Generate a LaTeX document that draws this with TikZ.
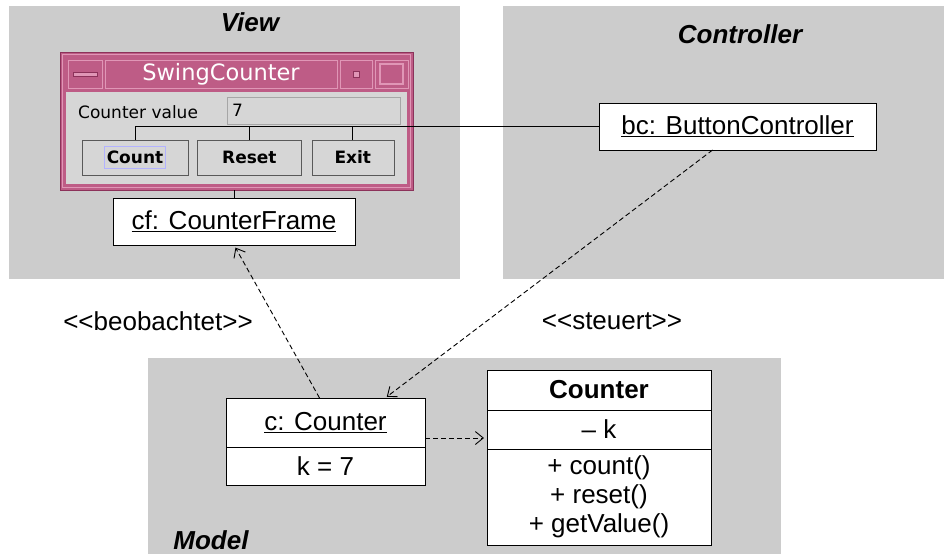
\documentclass[tikz,border=0pt]{standalone}
\usepackage{fontspec}
\setmainfont{Liberation Sans}
\newfontfamily\swingfont{DejaVu Sans}
\usetikzlibrary{positioning,calc,arrows.meta}
\definecolor{panelgray}{RGB}{204,204,204}
\definecolor{swingpink}{RGB}{190,92,134}
\definecolor{swinglight}{RGB}{224,150,182}
\definecolor{swingdark}{RGB}{140,50,90}
\definecolor{swinggray}{RGB}{214,214,214}
\tikzset{
    panel/.style = {
        fill = panelgray,
        },
    part label/.style = {
        font = \fontsize{26}{30}\selectfont\bfseries\itshape,
        },
    uml box/.style = {
        draw,
        fill = white,
        line width = 1pt,
        inner sep = 0pt,
        outer sep = 0pt,
        font = \fontsize{26}{29}\selectfont,
        },
    class name/.style = {
        font = \fontsize{26}{29}\selectfont\bfseries,
        },
    dep/.style = {
        draw,
        line width = 0.9pt,
        dash pattern = on 5pt off 3pt,
        -{Straight Barb[length=8pt,width=13pt]},
        },
    stereo/.style = {
        font = \fontsize{26}{30}\selectfont,
        },
    swing button/.style = {
        draw = gray!70!black,
        fill = swinggray,
        minimum height = 35pt,
        inner sep = 0pt,
        font = \swingfont\fontsize{17}{20}\selectfont\bfseries,
        },
    swing text/.style = {
        font = \swingfont\fontsize{17}{20}\selectfont,
        inner sep = 0pt,
        },
}
\begin{document}
\begin{tikzpicture}[x=1pt, y=-1pt]
    \useasboundingbox (0,0) rectangle (944,554);
    \fill[panel] (9,6) rectangle (460,279);
    \fill[panel] (503,6) rectangle (944,279);
    \fill[panel] (148,358) rectangle (781,554);
    \node[part label] (view) at (250,22) {View};
    \node[part label] (ctrl) at (740,34) {Controller};
    \node[part label] (model) at (211,540) {Model};

    % the swing window
    \node[draw=swingdark, fill=swingpink, minimum width=353pt, minimum height=138pt, inner sep=0pt] (win) at (236.5,121) {};
    \draw[swinglight, line width=1.5pt] (62.5,54.5) rectangle (410.5,187.5);
    \fill[swinggray] (66,92) rectangle (407,184);
    \draw[swinglight] (68,60) rectangle (102,88);
    \draw[swinglight] (105,60) rectangle (337,88);
    \draw[swinglight] (340,60) rectangle (372,88);
    \draw[swinglight] (375,60) rectangle (408,88);
    \filldraw[fill=swinglight, draw=swingdark] (73,72) rectangle (97,76);
    \filldraw[fill=swinglight, draw=swingdark] (353,71) rectangle (359,77);
    \draw[swinglight, line width=1.5pt] (380,64) rectangle (403,84);
    \node[swing text, white, font=\swingfont\fontsize{22.5}{26}\selectfont] (title) at (221,74) {SwingCounter};
    \node[swing text, anchor=west] (lbl) at (78,112) {Counter value};
    \node[draw=gray!70, fill=swinggray, minimum width=173pt, minimum height=27pt] (field) at (313.5,110.5) {};
    \node[swing text, anchor=west] (val) at ([xshift=5pt]field.west) {7};
    \node[swing button, minimum width=106pt] (count) at (135,157.5) {Count};
    \node[swing button, minimum width=104pt, right=9pt of count] (reset) {Reset};
    \node[swing button, minimum width=82pt, right=10pt of reset] (exit) {Exit};
    \draw[blue!30] (104,146) rectangle (165,168);

    \node[uml box, minimum width=242pt, minimum height=47pt] (cf) at (234,221.5) {\underline{cf: CounterFrame}};
    \node[uml box, minimum width=277pt, minimum height=47pt] (bc) at (737.5,126.5) {\underline{bc: ButtonController}};
    \node[uml box, minimum width=199pt, minimum height=49pt] (c) at (325.5,422.5) {\underline{c: Counter}};
    \node[uml box, minimum width=199pt, minimum height=38pt, below=0pt of c] (cval) {k = 7};
    \node[uml box, class name, minimum width=224pt, minimum height=40pt] (cls) at (599,390) {Counter};
    \node[uml box, minimum width=224pt, minimum height=39pt, below=0pt of cls] (clsattr) {\textendash{} k};
    \node[uml box, minimum width=224pt, minimum height=96pt, below=0pt of clsattr, align=center] (clsops) {+ count()\\+ reset()\\+ getValue()};

    \draw[line width=0.8pt] (win.south -| cf.north) -- (cf.north);
    \draw[line width=0.8pt] (bc.west) -- (count.north |- bc.west) -- (count.north);
    \draw[line width=0.8pt] (reset.north |- bc.west) -- (reset.north);
    \draw[line width=0.8pt] (exit.north |- bc.west) -- (exit.north);

    \draw[dep, shorten >=3pt] ($(c.north west)!0.47!(c.north east)$) -- (cf.south);
    \draw[dep, shorten >=2pt] ($(bc.south west)!0.41!(bc.south east)$) -- ($(c.north west)!0.8!(c.north east)$);
    \coordinate (cout) at ($(c.east)+(0,15.5)$);
    \draw[dep, shorten >=3pt] (cout) -- (cout -| clsattr.west);

    \node[stereo] (obs) at (158,321) {<\kern0pt<beobachtet>\kern0pt>};
    \node[stereo] (steer) at (612,321) {<\kern0pt<steuert>\kern0pt>};
\end{tikzpicture}
\end{document}
